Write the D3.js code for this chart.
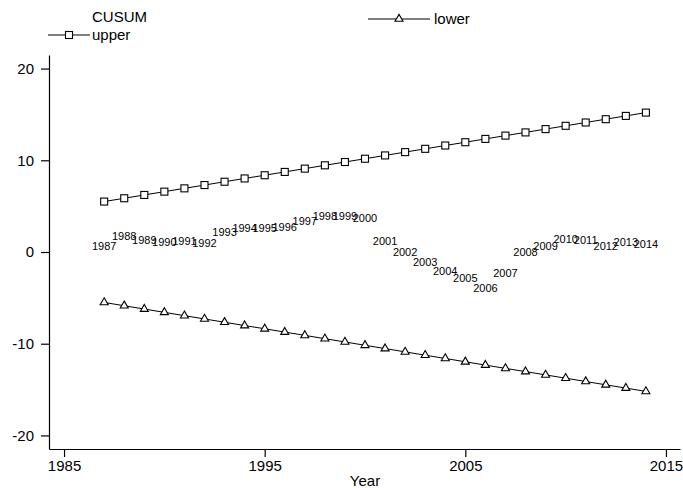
<!DOCTYPE html>
<html><head><meta charset="utf-8">
<script src="https://cdn.jsdelivr.net/npm/d3@7"></script>
<style>
html,body{margin:0;padding:0;background:#fff;}
svg{display:block;font-family:"Liberation Sans",Arial,sans-serif;}
</style></head>
<body><svg id="c" width="683" height="488"></svg>
<script>
const years = d3.range(1987, 2015);
const upper = [5.50,5.86,6.22,6.58,6.94,7.30,7.66,8.02,8.37,8.73,9.09,9.45,9.81,10.17,10.53,10.89,11.25,11.61,11.97,12.33,12.69,13.04,13.40,13.76,14.12,14.48,14.84,15.20];
const lower = [-5.50,-5.86,-6.22,-6.58,-6.94,-7.30,-7.66,-8.02,-8.37,-8.73,-9.09,-9.45,-9.81,-10.17,-10.53,-10.89,-11.25,-11.61,-11.97,-12.33,-12.69,-13.04,-13.40,-13.76,-14.12,-14.48,-14.84,-15.20];
const cusum = [0.69,1.78,1.31,1.12,1.23,0.95,2.15,2.58,2.58,2.70,3.38,3.96,3.96,3.74,1.20,-0.04,-1.13,-2.07,-2.80,-3.90,-2.33,-0.04,0.69,1.42,1.31,0.69,1.06,0.87];
const xTicks = [1985,1995,2005,2015];
const yTicks = [-20,-10,0,10,20];

const svg = d3.select("#c");
const x = d3.scaleLinear().domain([1984.25, 2015.7]).range([49, 680]);
const y = d3.scaleLinear().domain([-21.48, 21.48]).range([449, 55]);

// axes
const yAx = svg.append("g").attr("transform","translate(49,0)")
  .call(d3.axisLeft(y).tickValues(yTicks).tickFormat(d=>String(d)).tickSize(8).tickPadding(7).tickSizeOuter(0));
const xAx = svg.append("g").attr("transform","translate(0,449)")
  .call(d3.axisBottom(x).tickValues(xTicks).tickFormat(d=>String(d)).tickSize(8).tickPadding(3).tickSizeOuter(0));
[yAx,xAx].forEach(g=>{
  g.selectAll("path,line").attr("stroke","#000").attr("stroke-width",1.2);
  g.selectAll("text").attr("fill","#000").style("font-size","15px").style("font-family","'Liberation Sans',Arial,sans-serif");
});
svg.append("text").attr("x", x(2000)).attr("y", 486).attr("text-anchor","middle")
  .style("font-size","15px").text("Year");

// lines
const line = d3.line().x((d,i)=>x(years[i])).y(d=>y(d));
svg.append("path").datum(upper).attr("d",line).attr("fill","none").attr("stroke","#000").attr("stroke-width",1);
svg.append("path").datum(lower).attr("d",line).attr("fill","none").attr("stroke","#000").attr("stroke-width",1);

const sq = 7;
svg.append("g").selectAll("rect").data(upper).join("rect")
  .attr("x",(d,i)=>x(years[i])-sq/2).attr("y",d=>y(d)-sq/2)
  .attr("width",sq).attr("height",sq).attr("fill","#fff").attr("stroke","#000").attr("stroke-width",1.1);
const tri = d3.symbol().type(d3.symbolTriangle).size(28);
svg.append("g").selectAll("path").data(lower).join("path")
  .attr("transform",(d,i)=>`translate(${x(years[i])},${y(d)})`)
  .attr("d",tri).attr("fill","#fff").attr("stroke","#000").attr("stroke-width",1.1);

// year labels at CUSUM values
svg.append("g").selectAll("text").data(cusum).join("text")
  .attr("x",(d,i)=>x(years[i])).attr("y",d=>y(d)).attr("dy","0.36em")
  .attr("text-anchor","middle").style("font-size","11px").attr("fill","#000")
  .text((d,i)=>years[i]);

// legend
const lg = svg.append("g");
lg.append("text").attr("x",92).attr("y",22).style("font-size","15px").text("CUSUM");
lg.append("line").attr("x1",48).attr("x2",90).attr("y1",35).attr("y2",35).attr("stroke","#000");
lg.append("rect").attr("x",69-sq/2).attr("y",35-sq/2).attr("width",sq).attr("height",sq).attr("fill","#fff").attr("stroke","#000").attr("stroke-width",1.1);
lg.append("text").attr("x",92).attr("y",40).style("font-size","15px").text("upper");
lg.append("line").attr("x1",368).attr("x2",430).attr("y1",19).attr("y2",19).attr("stroke","#000");
lg.append("path").attr("transform","translate(399,19)").attr("d",tri).attr("fill","#fff").attr("stroke","#000").attr("stroke-width",1.1);
lg.append("text").attr("x",434).attr("y",24).style("font-size","15px").text("lower");
</script></body></html>
